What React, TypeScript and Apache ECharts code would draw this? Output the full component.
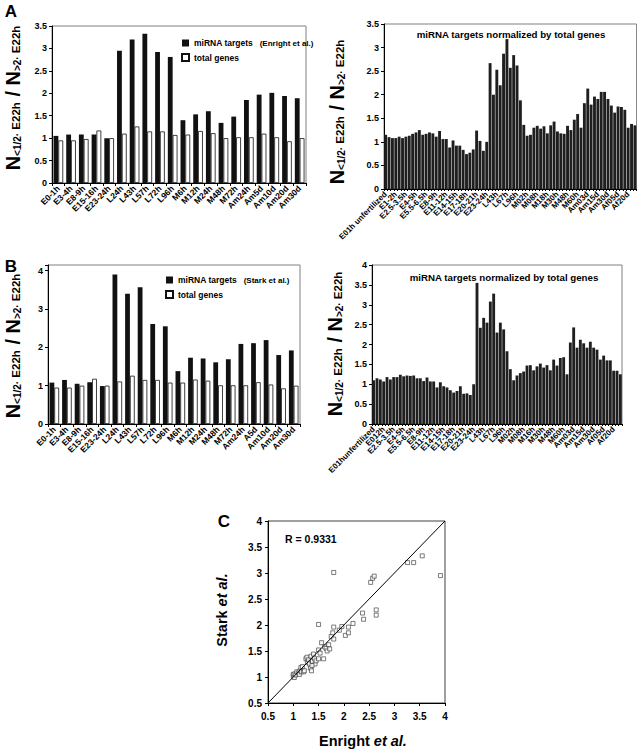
import React, { useEffect, useRef } from 'react';
import * as echarts from 'echarts';

const FONT = 'Liberation Sans, Arial, sans-serif';

// Panel A (Enright et al.)
const stagesEnright = ['E0-1h', 'E3-4h', 'E8-9h', 'E15-16h', 'E23-24h', 'L24h', 'L43h', 'L57h', 'L72h', 'L96h', 'M6h', 'M12h', 'M24h', 'M48h', 'M72h', 'Am24h', 'Am5d', 'Am10d', 'Am20d', 'Am30d'];
const enrightTargets = [1.05, 1.08, 1.08, 1.08, 1.0, 2.95, 3.2, 3.33, 2.92, 2.81, 1.4, 1.53, 1.6, 1.34, 1.48, 1.85, 1.97, 2.01, 1.94, 1.89];
const enrightTotal = [0.95, 0.95, 0.98, 1.17, 1.0, 1.1, 1.26, 1.15, 1.15, 1.07, 1.08, 1.16, 1.11, 1.0, 1.02, 1.02, 1.1, 1.02, 0.93, 1.0];

// Panel B (Stark et al.)
const stagesStark = ['E0-1h', 'E3-4h', 'E8-9h', 'E15-16h', 'E23-24h', 'L24h', 'L43h', 'L57h', 'L72h', 'L96h', 'M6h', 'M12h', 'M24h', 'M48h', 'M72h', 'Am24h', 'A5d', 'Am10d', 'Am20d', 'Am30d'];
const starkTargets = [1.08, 1.15, 1.05, 1.09, 0.99, 3.9, 3.4, 3.57, 2.61, 2.55, 1.38, 1.73, 1.71, 1.61, 1.69, 2.09, 2.11, 2.19, 1.8, 1.92];
const starkTotal = [0.95, 0.95, 1.0, 1.18, 1.0, 1.11, 1.26, 1.15, 1.15, 1.08, 1.08, 1.16, 1.13, 1.01, 1.01, 1.01, 1.09, 1.03, 0.93, 1.0];

// Normalized panels (every third bar labelled)
const normLabelsEnright = ['E01h unfertilized', 'E1-2h', 'E2.5-3.5h', 'E4-5h', 'E5.5-6.5h', 'E8-9h', 'E11-12h', 'E14-15h', 'E17-18h', 'E20-21h', 'E23-24h', 'L43h', 'L67h', 'L96h', 'M02h', 'M08h', 'M18h', 'M30h', 'M48h', 'M60h', 'Am03d', 'Am15d', 'Am30d', 'Af05d', 'Af20d'];
const normEnright = [1.15, 1.1, 1.08, 1.08, 1.11, 1.08, 1.11, 1.13, 1.17, 1.2, 1.25, 1.15, 1.17, 1.2, 1.18, 1.11, 1.23, 1.06, 1.06, 0.88, 1.03, 0.92, 0.92, 0.83, 0.74, 0.77, 0.84, 1.24, 1.02, 0.81, 1.0, 2.67, 2.0, 2.53, 2.2, 2.87, 3.18, 2.57, 2.84, 2.62, 1.88, 1.36, 1.13, 1.15, 1.3, 1.34, 1.28, 1.33, 1.18, 1.35, 1.43, 1.22, 1.18, 1.17, 1.34, 1.25, 1.47, 1.59, 1.3, 1.82, 2.13, 1.79, 1.96, 1.91, 2.06, 2.06, 1.91, 1.77, 1.62, 1.75, 1.74, 1.68, 1.3, 1.38, 1.35];
const normLabelsStark = ['E01hunfertilized', 'E012h', 'E2.5-3.5h', 'E4-5h', 'E5.5-6.5h', 'E8-9h', 'E11-12h', 'E14-15h', 'E17-18h', 'E20-21h', 'E23-24h', 'L43h', 'L67h', 'L96h', 'M02h', 'M08h', 'M16h', 'M30h', 'M48h', 'M60h', 'Am03d', 'Am15d', 'Am30d', 'Af05d', 'Af20d'];
const normStark = [1.1, 1.15, 1.12, 1.07, 1.18, 1.12, 1.18, 1.18, 1.24, 1.2, 1.22, 1.21, 1.22, 1.15, 1.15, 1.08, 1.17, 1.07, 1.07, 0.92, 1.05, 0.95, 0.92, 0.85, 0.79, 0.83, 0.95, 0.76, 0.77, 0.73, 1.0, 3.55, 2.42, 2.67, 2.55, 3.08, 3.28, 2.3, 2.55, 2.38, 1.83, 1.38, 1.1, 1.22, 1.28, 1.32, 1.47, 1.48, 1.35, 1.45, 1.52, 1.42, 1.48, 1.35, 1.62, 1.47, 1.66, 1.68, 1.25, 2.05, 2.43, 1.92, 2.12, 2.03, 1.92, 2.07, 1.92, 1.87, 1.62, 1.72, 1.6, 1.6, 1.34, 1.34, 1.25];

// Panel C: Enright (x) vs Stark (y)
const scatterPoints = [
  [1.0, 1.02], [1.0, 1.05], [1.02, 0.99], [1.03, 1.06], [1.05, 1.04], [1.07, 1.1], [1.1, 1.08], [1.12, 1.05],
  [1.13, 1.12], [1.15, 1.18], [1.16, 1.1], [1.18, 1.2], [1.2, 1.1], [1.22, 1.12], [1.25, 1.35], [1.27, 1.38],
  [1.28, 1.28], [1.3, 1.33], [1.32, 1.25], [1.34, 1.17], [1.35, 1.4], [1.36, 1.12], [1.38, 1.3], [1.4, 1.44],
  [1.42, 1.35], [1.43, 1.25], [1.45, 1.31], [1.37, 1.22], [1.5, 1.52], [1.5, 1.35], [1.53, 1.46], [1.56, 1.66],
  [1.6, 1.35], [1.62, 1.58], [1.65, 1.55], [1.67, 1.5], [1.7, 1.62], [1.72, 1.54], [1.75, 1.78], [1.78, 1.85],
  [1.8, 1.73], [1.8, 1.96], [1.5, 2.01], [1.91, 1.9], [1.96, 1.97], [2.03, 1.8], [2.09, 1.96], [2.09, 1.85],
  [2.18, 2.03], [2.37, 2.23], [2.39, 2.11], [2.64, 2.29], [2.64, 2.19], [2.53, 2.82], [2.57, 2.9], [2.6, 2.94],
  [1.8, 3.01], [3.91, 2.95], [3.26, 3.2], [3.38, 3.2], [3.55, 3.33],
];
const diagonal = [[0.5, 0.5], [4, 4]];
const correlationText = 'R = 0.9331';
const normTitle = 'miRNA targets normalized by total genes';

const yTitle = '{n|N}{s|<1/2·}{e| E22h}{n| / N}{s|>2·}{e| E22h}';
const yRich = {
  n: { fontSize: 20, fontWeight: 'bold', fontFamily: FONT, fill: '#000', color: '#000' },
  s: { fontSize: 10, fontWeight: 'bold', fontFamily: FONT, verticalAlign: 'bottom', color: '#000', fill: '#000', padding: [0, 0, 1, 0] },
  e: { fontSize: 11.5, fontWeight: 'bold', fontFamily: FONT, verticalAlign: 'bottom', color: '#000', fill: '#000', padding: [0, 0, 1, 0] },
};

export default function App() {
  const ref = useRef<HTMLDivElement>(null);
  useEffect(() => {
    const chart = echarts.init(ref.current as HTMLDivElement, null, { renderer: 'svg', width: 637, height: 749 });
    const axisLine = { show: true, onZero: false, lineStyle: { color: '#000', width: 1 } };
    const tick = { show: true, inside: false, length: 3, lineStyle: { color: '#000', width: 1 } };
    const lbl = (size: number) => ({ color: '#000', fontFamily: FONT, fontWeight: 'bold', fontSize: size });
    const idx75 = normEnright.map((_, i) => String(i));
    const gridBorder = { show: true, borderColor: '#808080', borderWidth: 1, backgroundColor: 'transparent' };
    const legendFormatter = (name: string) =>
      name.startsWith('miRNA') ? `{a|miRNA targets}  {b|${name.slice(14)}}` : `{a|${name}}`;
    const legendText = {
      color: '#000',
      fontFamily: FONT,
      rich: {
        a: { fontSize: 8.5, fontWeight: 'bold', fontFamily: FONT, color: '#000' },
        b: { fontSize: 8, fontWeight: 'bold', fontFamily: FONT, color: '#000' },
      },
    };
    const text = (x: number, y: number, t: string, size: number, extra: any = {}) => ({
      type: 'text', x, y, ...extra,
      style: { text: t, fontSize: size, fontWeight: 'bold', fontFamily: FONT, fill: '#000', align: 'center', verticalAlign: 'middle', ...(extra.style || {}) },
    });
    const option: any = {
      animation: false,
      backgroundColor: '#fff',
      grid: [
        { left: 52, top: 26, width: 254, height: 157, ...gridBorder },
        { left: 384, top: 24, width: 256, height: 165, ...gridBorder },
        { left: 48, top: 265, width: 252, height: 159, ...gridBorder },
        { left: 372, top: 265, width: 250, height: 159, ...gridBorder },
        { left: 268, top: 521, width: 177, height: 182, show: true, borderColor: '#404040', borderWidth: 1 },
      ],
      xAxis: [
        { type: 'category', gridIndex: 0, data: stagesEnright, axisLine, axisTick: { ...tick, interval: 0 }, axisLabel: { ...lbl(8.5), rotate: 45, interval: 0, margin: 4 } },
        { type: 'category', gridIndex: 1, data: idx75, axisLine, axisTick: { ...tick, interval: 0, length: 2 }, axisLabel: { ...lbl(8), rotate: 45, interval: 0, margin: 4, formatter: (_v: string, i: number) => (i % 3 === 0 ? normLabelsEnright[i / 3] : '') } },
        { type: 'category', gridIndex: 2, data: stagesStark, axisLine, axisTick: { ...tick, interval: 0 }, axisLabel: { ...lbl(8.5), rotate: 45, interval: 0, margin: 4 } },
        { type: 'category', gridIndex: 3, data: idx75, axisLine, axisTick: { ...tick, interval: 0, length: 2 }, axisLabel: { ...lbl(8), rotate: 45, interval: 0, margin: 4, formatter: (_v: string, i: number) => (i % 3 === 0 ? normLabelsStark[i / 3] : '') } },
        { type: 'value', gridIndex: 4, min: 0.5, max: 4, interval: 0.5, axisLine, axisTick: tick, splitLine: { show: false }, axisLabel: { ...lbl(10), margin: 8 } },
      ],
      yAxis: [
        { type: 'value', gridIndex: 0, min: 0, max: 3.5, interval: 0.5, axisLine, axisTick: tick, splitLine: { show: false }, axisLabel: { ...lbl(9), margin: 5 } },
        { type: 'value', gridIndex: 1, min: 0, max: 3.5, interval: 0.5, axisLine, axisTick: tick, splitLine: { show: false }, axisLabel: { ...lbl(9), margin: 5 } },
        { type: 'value', gridIndex: 2, min: 0, max: 4.15, interval: 1, axisLine, axisTick: tick, splitLine: { show: false }, axisLabel: { ...lbl(9), margin: 5, formatter: (v: number) => (Number.isInteger(v) ? String(v) : '') } },
        { type: 'value', gridIndex: 3, min: 0, max: 4, interval: 0.5, axisLine, axisTick: tick, splitLine: { show: false }, axisLabel: { ...lbl(9), margin: 5 } },
        { type: 'value', gridIndex: 4, min: 0.5, max: 4, interval: 0.5, axisLine, axisTick: tick, splitLine: { show: false }, axisLabel: { ...lbl(10), margin: 6 } },
      ],
      legend: [
        { orient: 'vertical', left: 181, top: 37, itemWidth: 7, itemHeight: 7, itemGap: 4, padding: 0, icon: 'rect', data: ['miRNA targets (Enright et al.)', 'total genes'], formatter: legendFormatter, textStyle: legendText, selectedMode: false },
        { orient: 'vertical', left: 165, top: 274, itemWidth: 7, itemHeight: 7, itemGap: 4, padding: 0, icon: 'rect', data: ['miRNA targets (Stark et al.)', 'total genes'], formatter: legendFormatter, textStyle: legendText, selectedMode: false },
      ],
      series: [
        { type: 'bar', name: 'miRNA targets (Enright et al.)', xAxisIndex: 0, yAxisIndex: 0, data: enrightTargets, barGap: '0%', barCategoryGap: '24%', itemStyle: { color: '#111' } },
        { type: 'bar', name: 'total genes', xAxisIndex: 0, yAxisIndex: 0, data: enrightTotal, itemStyle: { color: '#fff', borderColor: '#111', borderWidth: 0.8 } },
        { type: 'bar', name: 'normEnright', xAxisIndex: 1, yAxisIndex: 1, data: normEnright, barCategoryGap: '14%', itemStyle: { color: '#1f1f1f' } },
        { type: 'bar', name: 'miRNA targets (Stark et al.)', xAxisIndex: 2, yAxisIndex: 2, data: starkTargets, barGap: '0%', barCategoryGap: '24%', itemStyle: { color: '#111' } },
        { type: 'bar', name: 'total genes', xAxisIndex: 2, yAxisIndex: 2, data: starkTotal, itemStyle: { color: '#fff', borderColor: '#111', borderWidth: 0.8 } },
        { type: 'bar', name: 'normStark', xAxisIndex: 3, yAxisIndex: 3, data: normStark, barCategoryGap: '14%', itemStyle: { color: '#1f1f1f' } },
        { type: 'line', name: 'diagonal', xAxisIndex: 4, yAxisIndex: 4, data: diagonal, symbol: 'none', lineStyle: { color: '#000', width: 1 } },
        { type: 'scatter', name: 'Enright vs Stark', xAxisIndex: 4, yAxisIndex: 4, data: scatterPoints, symbol: 'rect', symbolSize: 4, itemStyle: { color: '#fff', borderColor: '#333', borderWidth: 0.8 } },
      ],
      graphic: [
        text(11, 11, 'A', 17),
        text(11, 266, 'B', 17),
        text(224, 521, 'C', 17),
        text(13, 98, yTitle, 20, { rotation: Math.PI / 2, style: { rich: yRich } }),
        text(337, 112, yTitle, 20, { rotation: Math.PI / 2, style: { rich: yRich } }),
        text(13, 346, yTitle, 20, { rotation: Math.PI / 2, style: { rich: yRich } }),
        text(335, 344, yTitle, 20, { rotation: Math.PI / 2, style: { rich: yRich } }),
        text(511, 34, normTitle, 9.7),
        text(504, 277, normTitle, 9.7),
        text(285, 539, correlationText, 10.5, { style: { align: 'left' } }),
        text(363, 741, '{a|Enright }{b|et al.}', 14.5, {
          style: { rich: { a: { fontSize: 14.5, fontWeight: 'bold', fontFamily: FONT }, b: { fontSize: 14.5, fontWeight: 'bold', fontStyle: 'italic', fontFamily: FONT } } },
        }),
        text(222, 610, '{a|Stark }{b|et al.}', 14.5, {
          rotation: Math.PI / 2,
          style: { rich: { a: { fontSize: 14.5, fontWeight: 'bold', fontFamily: FONT }, b: { fontSize: 14.5, fontWeight: 'bold', fontStyle: 'italic', fontFamily: FONT } } },
        }),
      ],
    };
    chart.setOption(option);
    return () => chart.dispose();
  }, []);
  return <div ref={ref} style={{ position: 'absolute', left: 0, top: 0, width: 637, height: 749, background: '#fff' }} />;
}
